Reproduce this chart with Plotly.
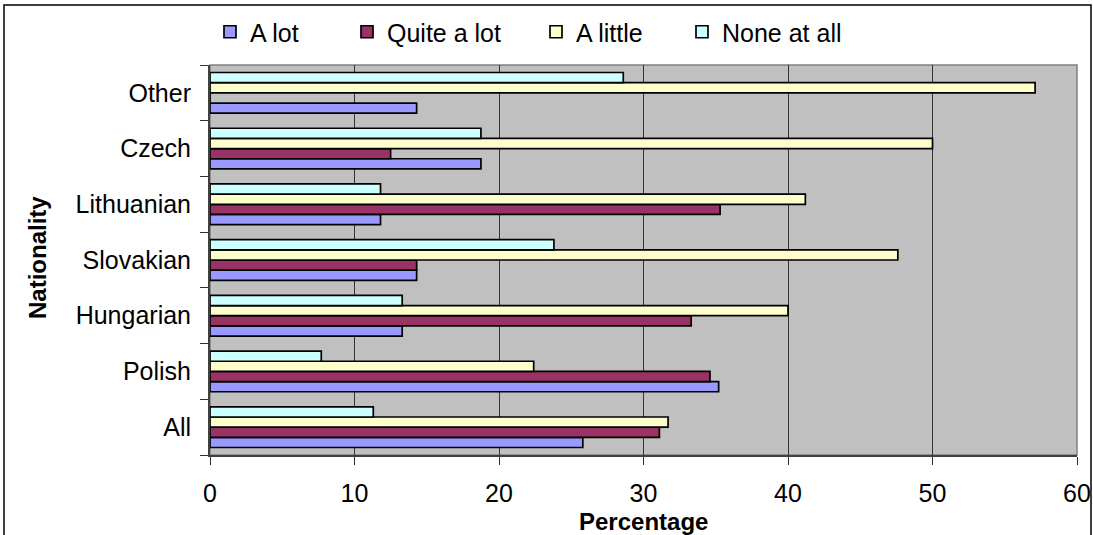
import plotly.graph_objects as go

# Survey answers by nationality (percent of respondents)
nationalities = ["All", "Polish", "Hungarian", "Slovakian", "Lithuanian", "Czech", "Other"]
a_lot = [25.8, 35.2, 13.3, 14.3, 11.8, 18.75, 14.3]
quite_a_lot = [31.1, 34.6, 33.3, 14.3, 35.3, 12.5, 0]
a_little = [31.7, 22.4, 40.0, 47.6, 41.2, 50.0, 57.1]
none_at_all = [11.3, 7.7, 13.3, 23.8, 11.8, 18.75, 28.6]

x_ticks = [0, 10, 20, 30, 40, 50, 60]

series = [
    ("A lot", a_lot, "#9999FF"),
    ("Quite a lot", quite_a_lot, "#993366"),
    ("A little", a_little, "#FFFFCC"),
    ("None at all", none_at_all, "#CCFFFF"),
]

FONT = "Liberation Sans, Arial, sans-serif"
FS = 25
W, H = 1093, 535
ML, MR, MT, MB = 210, 16, 65, 80
pw = W - ML - MR
ph = H - MT - MB


def px_x(x):
    """Horizontal pixel position -> paper coordinate."""
    return (x - ML) / pw


def px_y(y):
    """Vertical pixel position (from top) -> paper coordinate."""
    return (H - MB - y) / ph


fig = go.Figure()
legend_ids = ["legend", "legend2", "legend3", "legend4"]
legend_x = [210, 347, 536, 682]  # left edge of each legend entry, px

for (name, vals, color), lid in zip(series, legend_ids):
    fig.add_trace(go.Bar(
        y=nationalities, x=vals, name=name, orientation="h",
        marker=dict(color=color, line=dict(color="black", width=1.7)),
        legend=lid,
    ))

legend_common = dict(
    orientation="h", bgcolor="rgba(0,0,0,0)", borderwidth=0,
    font=dict(family=FONT, size=FS, color="black"),
    xref="container", yref="container", xanchor="left", yanchor="middle",
    y=1 - 32 / H, itemclick=False,
)
layout_legends = {}
for lid, lx in zip(legend_ids, legend_x):
    layout_legends[lid] = dict(legend_common, x=lx / W)

title_font = dict(family=FONT, size=24, color="black", weight="bold")

fig.update_layout(
    width=W, height=H,
    margin=dict(l=ML, r=MR, t=MT, b=MB, autoexpand=False),
    paper_bgcolor="white",
    plot_bgcolor="#C0C0C0",
    barmode="group",
    bargap=0.27,
    bargroupgap=0,
    font=dict(family=FONT, size=FS, color="black"),
    showlegend=True,
    **layout_legends,
    xaxis=dict(
        range=[0, 60], tickvals=x_ticks, ticktext=[str(v) for v in x_ticks],
        showgrid=True, gridcolor="#333333", gridwidth=1,
        ticks="outside", ticklen=8, tickcolor="#333333", tickwidth=1,
        showline=True, linecolor="#404040", linewidth=2,
        tickfont=dict(family=FONT, size=FS, color="black"),
        ticklabelstandoff=7,
        zeroline=False,
        automargin=False,
        fixedrange=True,
    ),
    yaxis=dict(
        type="category",
        categoryorder="array", categoryarray=nationalities,
        ticks="outside", ticklen=8, tickcolor="#333333", tickwidth=1,
        tickson="boundaries",
        showline=True, linecolor="#404040", linewidth=2,
        showgrid=False,
        tickfont=dict(family=FONT, size=FS, color="black"),
        ticklabelstandoff=12,
        automargin=False,
        fixedrange=True,
    ),
    annotations=[
        dict(text="Percentage", xref="paper", yref="paper",
             x=0.5, y=px_y(521), xanchor="center", yanchor="middle",
             showarrow=False, font=title_font),
        dict(text="Nationality", xref="paper", yref="paper",
             x=px_x(37), y=px_y(258), xanchor="center", yanchor="middle",
             textangle=-90, showarrow=False, font=title_font),
    ],
    shapes=[
        # frame of the plot area (top and right edges)
        dict(type="rect", xref="paper", yref="paper", x0=0, x1=1, y0=0, y1=1,
             line=dict(color="#808080", width=1.5), layer="below"),
        # outer chart border
        dict(type="rect", xref="paper", yref="paper",
             x0=px_x(4), x1=px_x(1091), y0=px_y(545), y1=px_y(5),
             line=dict(color="black", width=1.5)),
    ],
)

fig.write_html("out.html")
